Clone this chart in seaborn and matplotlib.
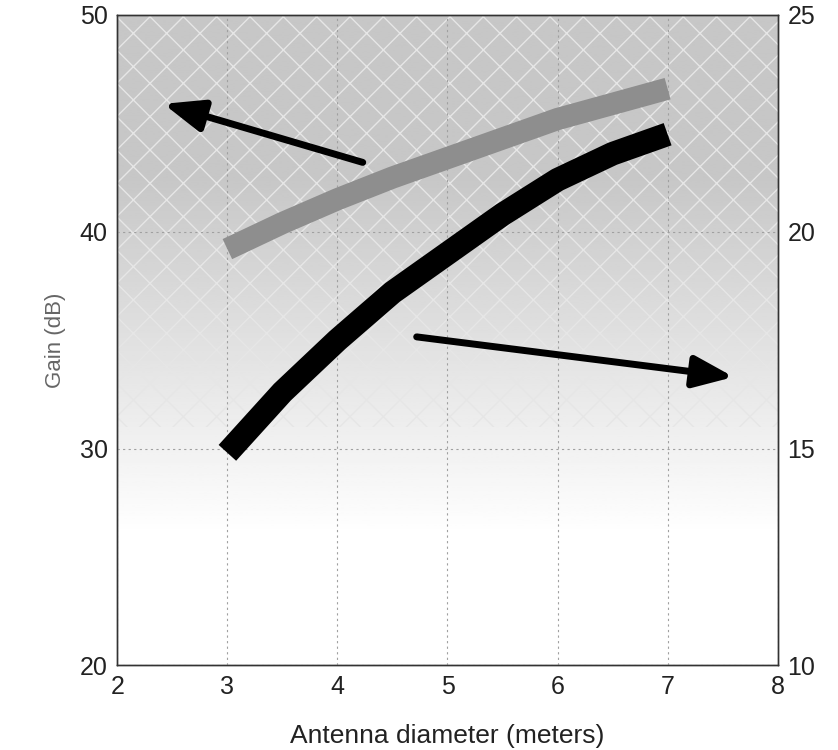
import matplotlib
matplotlib.use("Agg")
import matplotlib.pyplot as plt
import numpy as np
import pandas as pd
import seaborn as sns

# values
diameter = [3, 3.5, 4, 4.5, 5, 5.5, 6, 6.5, 7]
gain_db = [39.2, 40.4, 41.5, 42.5, 43.4, 44.3, 45.2, 45.9, 46.6]     # left axis
beamwidth = [14.9, 16.3, 17.5, 18.6, 19.5, 20.4, 21.2, 21.8, 22.25]  # right axis

x_ticks = [2, 3, 4, 5, 6, 7, 8]
left_ticks = [20, 30, 40, 50]
right_ticks = [10, 15, 20, 25]

# arrows pointing to the matching axis: (tail, head) in data coords
arrow_left = ((4.23, 43.2), (2.42, 45.9))
arrow_right = ((4.72, 35.15), (7.6, 33.3))

sns.set_theme(style="white")
plt.rcParams["font.family"] = ["Liberation Sans", "DejaVu Sans"]

fig = plt.figure(figsize=(8.38, 7.5), dpi=100)
ax = fig.add_axes([0.14, 0.113, 0.788, 0.867])

# textured grey background fading downward
grad = np.linspace(0, 1, 256).reshape(-1, 1)
shade = np.clip((grad - 0.2) / 0.55, 0, 1) * 0.22
ax.imshow(1 - shade, extent=[2, 8, 20, 50], origin="lower", aspect="auto",
          cmap="gray", vmin=0, vmax=1, zorder=0)
ax.fill_between([2, 8], 31, 50, facecolor="none", edgecolor="#e6e6e6",
                hatch="x", linewidth=0, zorder=0.5)

df_gain = pd.DataFrame({"d": diameter, "v": gain_db})
sns.lineplot(data=df_gain, x="d", y="v", ax=ax, color="#8e8e8e", lw=16,
             solid_capstyle="butt", zorder=3)

ax2 = ax.twinx()
df_bw = pd.DataFrame({"d": diameter, "v": beamwidth})
sns.lineplot(data=df_bw, x="d", y="v", ax=ax2, color="black", lw=17,
             solid_capstyle="butt", zorder=3)

ax.set_xlim(2, 8)
ax.set_ylim(20, 50)
ax2.set_ylim(10, 25)
ax.set_xticks(x_ticks)
ax.set_yticks(left_ticks)
ax2.set_yticks(right_ticks)
ax.grid(True, color="#a0a0a0", ls=(0, (2, 3)), lw=0.8)
ax.set_axisbelow(False)

for a in (ax, ax2):
    a.tick_params(labelsize=18, length=0, pad=7, colors="#222222")
    for s in a.spines.values():
        s.set_color("#333333")
        s.set_linewidth(1.0)

ax.set_xlabel("Antenna diameter (meters)", fontsize=19, labelpad=18,
              color="#222222")
ax.set_ylabel("Gain (dB)", fontsize=16, labelpad=10, color="#666666")
ax2.set_ylabel("")

for (tail, head) in (arrow_left, arrow_right):
    ax.annotate("", xy=head, xytext=tail, zorder=5,
                arrowprops=dict(arrowstyle="-|>,head_length=2.0,head_width=0.8",
                                color="black", lw=5, shrinkA=0, shrinkB=0))

fig.savefig("out.png", dpi=100)
